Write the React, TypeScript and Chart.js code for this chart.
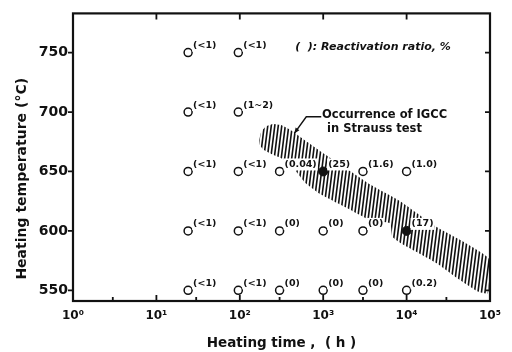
import { useEffect, useRef } from 'react';
import { Chart, registerables } from 'chart.js';

Chart.register(...registerables);

// ---- data ----
const xTickValues = [1, 10, 100, 1000, 10000, 100000];
const xMinorTickValues = [3, 30, 300, 3000, 30000];
const yTickValues = [550, 600, 650, 700, 750];
const superscripts = ['⁰', '¹', '²', '³', '⁴', '⁵'];

const openTimes = [24, 96, 24, 96, 24, 96, 300, 3000, 10000, 24, 96, 300, 1000, 3000, 24, 96, 300, 1000, 3000, 10000];
const openTemps = [750, 750, 700, 700, 650, 650, 650, 650, 650, 600, 600, 600, 600, 600, 550, 550, 550, 550, 550, 550];
const openLabels = ['(<1)', '(<1)', '(<1)', '(1~2)', '(<1)', '(<1)', '(0.04)', '(1.6)', '(1.0)', '(<1)', '(<1)', '(0)', '(0)', '(0)', '(<1)', '(<1)', '(0)', '(0)', '(0)', '(0.2)'];

const filledTimes = [1000, 10000];
const filledTemps = [650, 600];
const filledLabels = ['(25)', '(17)'];

// IGCC occurrence band outline (time h, temperature °C)
const bandTimes = [171, 180, 207, 251, 313, 424, 607, 970, 1595, 3650, 8350, 23200, 46200, 97200, 94600, 71800, 38100, 23200, 12600, 8350, 6700, 6340, 3650, 1830, 918, 607, 461, 350, 244, 191, 171];
const bandTemps = [676, 683, 688, 690, 689, 684, 676, 666, 656, 639, 625, 603, 591.5, 576.5, 547.5, 549, 561.5, 572.5, 583, 590, 595.5, 606.5, 609, 620, 631, 640.5, 651, 659.5, 664.5, 668.5, 673];

const legendText = '(  ): Reactivation ratio, %';
const bandNoteLines = ['Occurrence of IGCC', 'in Strauss test'];
const xTitle = 'Heating time ,  ( h )';
const yTitle = 'Heating temperature (°C)';

// annotation anchors (data coordinates)
const legendAnchor = { x: 461, y: 755 };
const noteAnchor = { x: 970, y: 697.5 };
const noteLeader = [
  { x: 948, y: 696 },
  { x: 627, y: 696 },
  { x: 450, y: 682 },
];

const INK = '#111';

function makeHatch(): CanvasPattern | string {
  const c = document.createElement('canvas');
  c.width = 7;
  c.height = 56;
  const g = c.getContext('2d');
  if (!g) return INK;
  g.strokeStyle = INK;
  g.lineWidth = 1.6;
  for (const x0 of [-7, -3.5, 0, 3.5, 7]) {
    g.beginPath();
    g.moveTo(x0, 56);
    g.lineTo(x0 + 7, 0);
    g.stroke();
  }
  return g.createPattern(c, 'repeat') || INK;
}

const decorPlugin = {
  id: 'decor',
  afterDatasetsDraw(chart: any) {
    const { ctx, chartArea: a, scales } = chart;
    const xs = scales.x;
    const ys = scales.y;
    ctx.save();
    ctx.strokeStyle = INK;
    ctx.fillStyle = INK;

    // frame
    ctx.lineWidth = 2.2;
    ctx.strokeRect(a.left, a.top, a.right - a.left, a.bottom - a.top);

    // ticks
    ctx.lineWidth = 1.8;
    ctx.beginPath();
    for (const v of yTickValues) {
      const py = ys.getPixelForValue(v);
      ctx.moveTo(a.left - 5, py);
      ctx.lineTo(a.left, py);
      ctx.moveTo(a.right, py);
      ctx.lineTo(a.right - 5, py);
    }
    for (const v of xTickValues.slice(1, -1)) {
      const px = xs.getPixelForValue(v);
      ctx.moveTo(px, a.bottom);
      ctx.lineTo(px, a.bottom - 6);
      ctx.moveTo(px, a.top);
      ctx.lineTo(px, a.top + 6);
    }
    for (const v of xMinorTickValues) {
      const px = xs.getPixelForValue(v);
      ctx.moveTo(px, a.bottom);
      ctx.lineTo(px, a.bottom - 4);
    }
    ctx.stroke();

    // point labels (white backing so they read over the hatching)
    ctx.font = 'bold 9.5px "DejaVu Sans"';
    ctx.textAlign = 'left';
    ctx.textBaseline = 'middle';
    const drawLabels = (idx: number, labels: string[]) => {
      const meta = chart.getDatasetMeta(idx);
      meta.data.forEach((el: any, i: number) => {
        const tx = el.x + 5;
        const ty = el.y - 7;
        const w = ctx.measureText(labels[i]).width;
        ctx.fillStyle = '#fff';
        ctx.fillRect(tx - 1, ty - 6, w + 2, 12);
        ctx.fillStyle = INK;
        ctx.fillText(labels[i], tx, ty);
      });
    };
    drawLabels(1, openLabels);
    drawLabels(2, filledLabels);

    // legend note
    ctx.font = 'italic bold 11px "DejaVu Sans"';
    ctx.fillText(legendText, xs.getPixelForValue(legendAnchor.x), ys.getPixelForValue(legendAnchor.y));

    // band note
    ctx.font = 'bold 11.5px "DejaVu Sans"';
    const nx = xs.getPixelForValue(noteAnchor.x);
    const ny = ys.getPixelForValue(noteAnchor.y);
    ctx.fillText(bandNoteLines[0], nx, ny);
    ctx.fillText(bandNoteLines[1], nx + 5, ny + 14);

    // leader line with arrow
    const pts = noteLeader.map((p) => ({ x: xs.getPixelForValue(p.x), y: ys.getPixelForValue(p.y) }));
    ctx.lineWidth = 1.4;
    ctx.beginPath();
    ctx.moveTo(pts[0].x, pts[0].y);
    for (let i = 1; i < pts.length; i++) ctx.lineTo(pts[i].x, pts[i].y);
    ctx.stroke();
    const p1 = pts[pts.length - 2];
    const p2 = pts[pts.length - 1];
    const ang = Math.atan2(p2.y - p1.y, p2.x - p1.x);
    const L = 6;
    ctx.beginPath();
    ctx.moveTo(p2.x, p2.y);
    ctx.lineTo(p2.x - L * Math.cos(ang - 0.4), p2.y - L * Math.sin(ang - 0.4));
    ctx.lineTo(p2.x - L * Math.cos(ang + 0.4), p2.y - L * Math.sin(ang + 0.4));
    ctx.closePath();
    ctx.fill();

    // y title
    ctx.font = 'bold 14px "DejaVu Sans"';
    ctx.textAlign = 'center';
    ctx.translate(22, a.top + (a.bottom - a.top) * 0.575);
    ctx.rotate(-Math.PI / 2);
    ctx.fillText(yTitle, 0, 0);
    ctx.restore();
  },
};

export default function App() {
  const ref = useRef<HTMLCanvasElement | null>(null);

  useEffect(() => {
    if (!ref.current) return;
    const hatch = makeHatch();
    const chart = new Chart(ref.current, {
      type: 'scatter',
      data: {
        datasets: [
          {
            type: 'line',
            label: 'Occurrence of IGCC in Strauss test',
            data: bandTimes.map((t, i) => ({ x: t, y: bandTemps[i] })),
            borderWidth: 0,
            borderColor: 'rgba(0,0,0,0)',
            backgroundColor: hatch as any,
            fill: 'shape',
            pointRadius: 0,
            tension: 0.15,
            order: 10,
          } as any,
          {
            label: 'No IGCC',
            data: openTimes.map((t, i) => ({ x: t, y: openTemps[i] })),
            pointRadius: 4,
            pointBorderWidth: 1.5,
            pointBorderColor: INK,
            pointBackgroundColor: '#fff',
            order: 0,
          },
          {
            label: 'IGCC',
            data: filledTimes.map((t, i) => ({ x: t, y: filledTemps[i] })),
            pointRadius: 4.5,
            pointBorderWidth: 1,
            pointBorderColor: INK,
            pointBackgroundColor: INK,
            order: 0,
          },
        ],
      },
      options: {
        responsive: false,
        animation: false,
        devicePixelRatio: 1,
        events: [],
        layout: { padding: { top: 9, right: 22, left: 0, bottom: 0 } },
        plugins: {
          legend: { display: false },
          tooltip: { enabled: false },
        },
        scales: {
          x: {
            type: 'logarithmic',
            min: 1,
            max: 100000,
            afterBuildTicks: (s: any) => {
              s.ticks = xTickValues.map((v) => ({ value: v }));
            },
            afterFit: (s: any) => {
              s.height = 51;
            },
            grid: { display: false, drawTicks: false },
            border: { display: false },
            ticks: {
              autoSkip: false,
              maxRotation: 0,
              padding: 8,
              color: INK,
              font: { family: '"DejaVu Sans"', size: 12, weight: 'bold' },
              callback: (v: any) => '10' + superscripts[Math.round(Math.log10(Number(v)))],
            },
            title: {
              display: true,
              text: xTitle,
              color: INK,
              padding: { top: 0, bottom: 0 },
              font: { family: '"DejaVu Sans"', size: 13.5, weight: 'bold' },
            },
          },
          y: {
            type: 'linear',
            min: 541,
            max: 783,
            afterBuildTicks: (s: any) => {
              s.ticks = yTickValues.map((v) => ({ value: v }));
            },
            afterFit: (s: any) => {
              s.width = 73;
            },
            grid: { display: false, drawTicks: false },
            border: { display: false },
            ticks: {
              padding: 5,
              color: INK,
              font: { family: '"DejaVu Sans"', size: 14, weight: 'bold' },
            },
          },
        },
      },
      plugins: [decorPlugin],
    } as any);
    return () => chart.destroy();
  }, []);

  return (
    <div style={{ position: 'absolute', left: 0, top: 0, width: 512, height: 352, background: '#fff' }}>
      <canvas ref={ref} width={512} height={352} style={{ display: 'block', width: 512, height: 352 }} />
    </div>
  );
}
